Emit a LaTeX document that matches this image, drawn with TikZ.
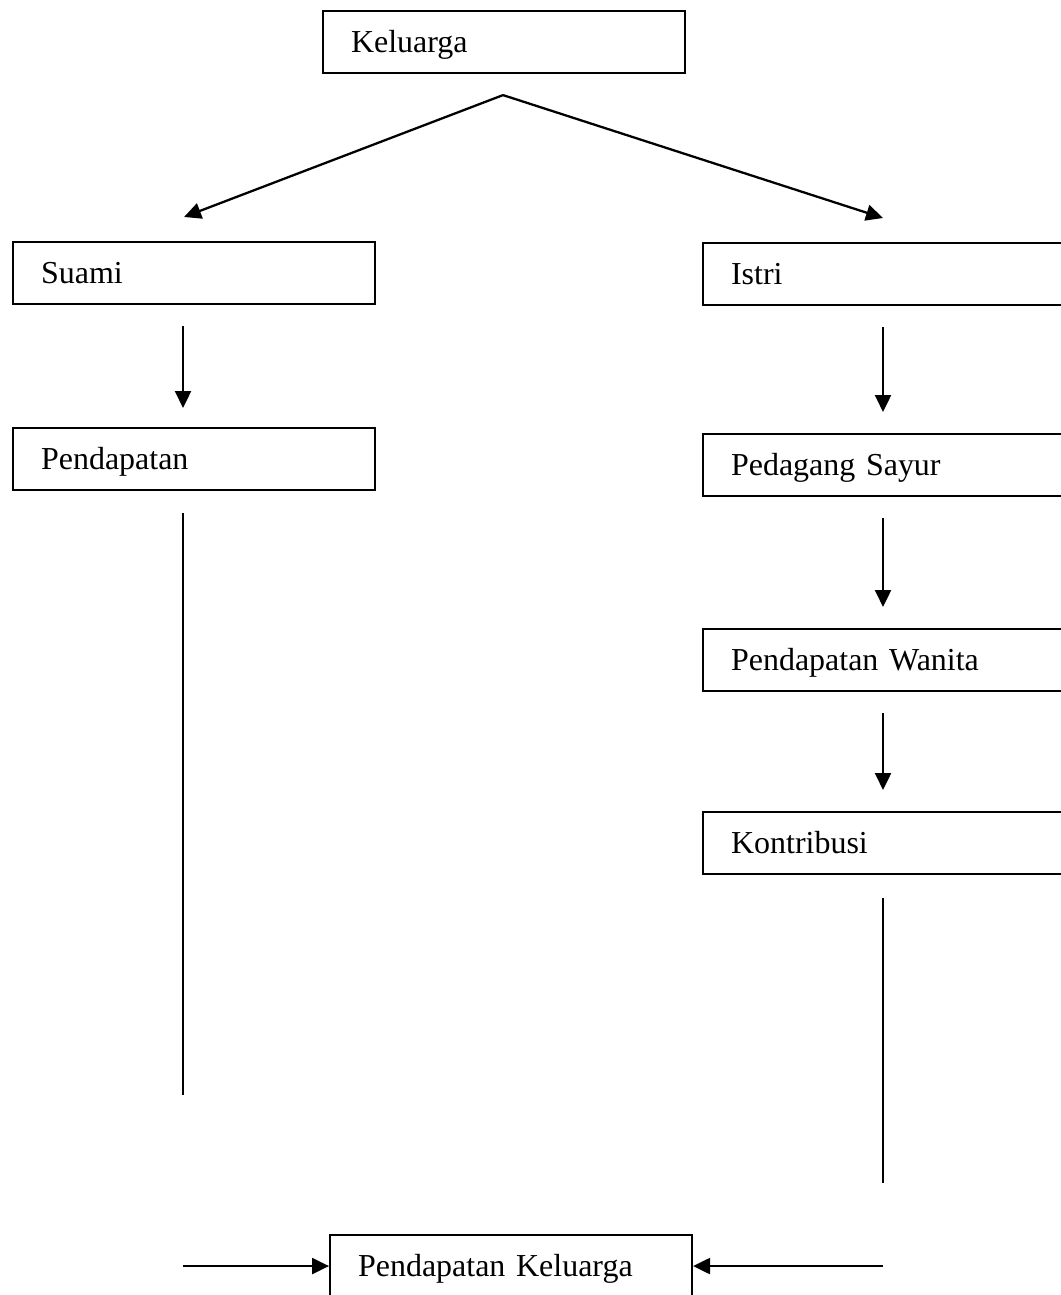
\documentclass[tikz,border=0pt]{standalone}
\usepackage{fontspec}
\setmainfont{Liberation Serif}
\usetikzlibrary{arrows.meta,calc,positioning}

\tikzset{
	box/.style={draw, line width=1.2pt, anchor=north west,
		minimum width=7.24cm, minimum height=1.24cm,
		text width=6.12cm, inner xsep=0.56cm, align=left,
		text height=0.42cm, text depth=0cm,
		font=\fontsize{18.2}{22}\selectfont},
	arr/.style={line width=1.3pt, -{Triangle[length=0.34cm,width=0.32cm]}},
	lin/.style={line width=1.3pt},
}

\begin{document}
\begin{tikzpicture}[x=0.02cm,y=-0.02cm]
		\useasboundingbox (0,0) rectangle (1061,1295);
		\clip (0,0) rectangle (1061,1295);
		% boxes
		\node[box] (kel) at (322,10) {Keluarga};
		\node[box] (suami) at (12,241) {Suami};
		\node[box] (istri) at (702,242) {Istri};
		\node[box] (pend) at (12,427) {Pendapatan};
		\node[box] (dag) at (702,433) {Pedagang Sayur};
		\node[box] (wan) at (702,628) {Pendapatan Wanita};
		\node[box] (kon) at (702,811) {Kontribusi};
		\node[box] (total) at (329,1234) {Pendapatan Keluarga};
		% split
		\coordinate (apex) at ($(kel.south)+(-1,21)$);
		\draw[arr] (apex) -- ($(suami.north)+(-10,-24)$);
		\draw[arr] (apex) -- ($(istri.north)+(-1,-24)$);
		% left side
		\draw[arr] ($(suami.south)+(-11,21)$) -- ($(pend.north)+(-11,-19)$);
		\draw[lin] ($(pend.south)+(-11,22)$) -- ++(0,582) coordinate (lb);
		% right side
		\foreach \a/\b in {istri/dag,dag/wan,wan/kon}{
			\draw[arr] ($(\a.south)+(-1,21)$) -- ($(\b.north)+(-1,-21)$);
			}
		\draw[lin] ($(kon.south)+(-1,23)$) -- ++(0,285) coordinate (rb);
		% join
		\draw[arr] (lb |- total.west) -- (total.west);
		\draw[arr] (rb |- total.east) -- (total.east);
\end{tikzpicture}
\end{document}
